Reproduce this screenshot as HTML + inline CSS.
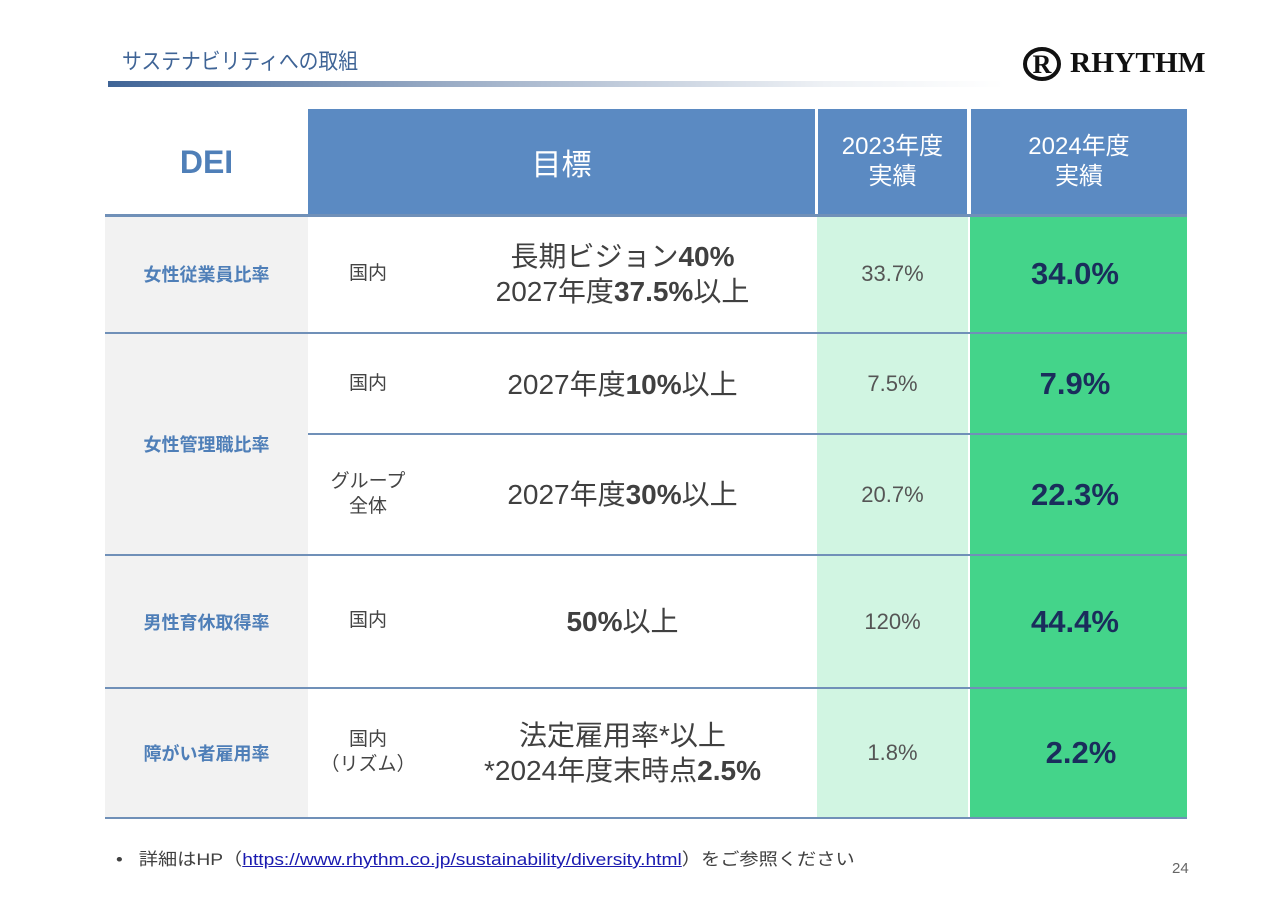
<!DOCTYPE html>
<html><head><meta charset="utf-8">
<style>
*{margin:0;padding:0;box-sizing:border-box}
body{width:1280px;height:904px;background:#fff;position:relative;overflow:hidden;font-family:"Liberation Sans","Noto Sans CJK JP",sans-serif;color:#444}
.a{position:absolute}
.c{display:flex;align-items:center;justify-content:center;text-align:center}
.lbl{color:#4f7fb8;font-weight:bold;font-size:18px}
.sub{font-size:19px;color:#444;line-height:1.3}
.goal{font-size:28px;color:#404040;line-height:1.25}
.v23{font-size:22px;color:#555}
.v24{font-size:31px;font-weight:bold;color:#1a2d5c}
.hl{height:2px;background:#7090b8}
</style></head><body>
<div class="a" style="left:122px;top:44px;font-size:22px;color:#3f6496;transform:scaleX(0.9);transform-origin:left">サステナビリティへの取組</div>
<div class="a" style="left:108px;top:81px;width:897px;height:6px;background:linear-gradient(90deg,#3f6496,#9fb0c8 40%,#eef1f5 80%,#fff)"></div>
<div class="a" style="left:1022px;top:46px;display:flex;align-items:center">
<svg width="40" height="36" viewBox="0 0 40 36"><ellipse cx="20" cy="18" rx="17" ry="15" fill="none" stroke="#111" stroke-width="4"/><text x="20" y="27" text-anchor="middle" font-family="Liberation Serif" font-weight="bold" font-size="26" fill="#111">R</text></svg>
<span style="font-family:'Liberation Serif',serif;font-weight:bold;font-size:28px;color:#111;margin-left:8px;display:inline-block;transform:scaleX(1.05);transform-origin:left">RHYTHM</span></div>

<div class="a c" style="left:105px;top:109px;width:203px;height:106px;color:#4f7fb8;font-weight:bold;font-size:32px">DEI</div>
<div class="a c" style="left:308px;top:109px;width:507px;height:106px;background:#5b8ac2;color:#fff;font-size:30px">目標</div>
<div class="a c" style="left:818px;top:109px;width:149px;height:106px;background:#5b8ac2;color:#fff;font-size:24px;line-height:1.25"><div>2023年度<br>実績</div></div>
<div class="a c" style="left:971px;top:109px;width:216px;height:106px;background:#5b8ac2;color:#fff;font-size:24px;line-height:1.25"><div>2024年度<br>実績</div></div>

<div class="a" style="left:105px;top:216px;width:203px;height:602px;background:#f2f2f2"></div>
<div class="a" style="left:817px;top:216px;width:151px;height:602px;background:#d1f5e2"></div>
<div class="a" style="left:970px;top:216px;width:217px;height:602px;background:#44d48a"></div>

<div class="a hl" style="left:105px;top:214px;width:1082px;height:3px"></div>
<div class="a hl" style="left:105px;top:332px;width:1082px"></div>
<div class="a hl" style="left:308px;top:433px;width:879px"></div>
<div class="a hl" style="left:105px;top:554px;width:1082px"></div>
<div class="a hl" style="left:105px;top:687px;width:1082px"></div>
<div class="a hl" style="left:105px;top:817px;width:1082px"></div>

<div class="a c lbl" style="left:105px;top:216px;width:203px;height:116px">女性従業員比率</div>
<div class="a c sub" style="left:308px;top:216px;width:120px;height:116px">国内</div>
<div class="a c goal" style="left:430px;top:216px;width:385px;height:116px"><div>長期ビジョン<b>40%</b><br>2027年度<b>37.5%</b>以上</div></div>
<div class="a c v23" style="left:817px;top:216px;width:151px;height:116px">33.7%</div>
<div class="a c v24" style="left:970px;top:216px;width:210px;height:116px">34.0%</div>

<div class="a c lbl" style="left:105px;top:334px;width:203px;height:220px">女性管理職比率</div>
<div class="a c sub" style="left:308px;top:334px;width:120px;height:100px">国内</div>
<div class="a c goal" style="left:430px;top:334px;width:385px;height:100px"><div>2027年度<b>10%</b>以上</div></div>
<div class="a c v23" style="left:817px;top:334px;width:151px;height:100px">7.5%</div>
<div class="a c v24" style="left:970px;top:334px;width:210px;height:100px">7.9%</div>
<div class="a c sub" style="left:308px;top:435px;width:120px;height:119px"><div>グループ<br>全体</div></div>
<div class="a c goal" style="left:430px;top:435px;width:385px;height:119px"><div>2027年度<b>30%</b>以上</div></div>
<div class="a c v23" style="left:817px;top:435px;width:151px;height:119px">20.7%</div>
<div class="a c v24" style="left:970px;top:435px;width:210px;height:119px">22.3%</div>

<div class="a c lbl" style="left:105px;top:556px;width:203px;height:131px">男性育休取得率</div>
<div class="a c sub" style="left:308px;top:556px;width:120px;height:131px">国内</div>
<div class="a c goal" style="left:430px;top:556px;width:385px;height:131px"><div><b>50%</b>以上</div></div>
<div class="a c v23" style="left:817px;top:556px;width:151px;height:131px">120%</div>
<div class="a c v24" style="left:970px;top:556px;width:210px;height:131px">44.4%</div>

<div class="a c lbl" style="left:105px;top:689px;width:203px;height:128px">障がい者雇用率</div>
<div class="a c sub" style="left:308px;top:689px;width:120px;height:128px"><div>国内<br>（リズム）</div></div>
<div class="a c goal" style="left:430px;top:689px;width:385px;height:128px"><div>法定雇用率*以上<br>*2024年度末時点<b>2.5%</b></div></div>
<div class="a c v23" style="left:817px;top:689px;width:151px;height:128px">1.8%</div>
<div class="a c v24" style="left:970px;top:689px;width:222px;height:128px">2.2%</div>

<div class="a" style="left:116px;top:845px;font-size:17px;color:#404040;white-space:nowrap;transform:scaleX(1.13);transform-origin:left">•&nbsp;&nbsp; 詳細はHP（<a style="color:#1a1ab0;text-decoration:underline">https://www.rhythm.co.jp/sustainability/diversity.html</a>）をご参照ください</div>
<div class="a" style="left:1172px;top:860px;font-size:15px;color:#666">24</div>
</body></html>
